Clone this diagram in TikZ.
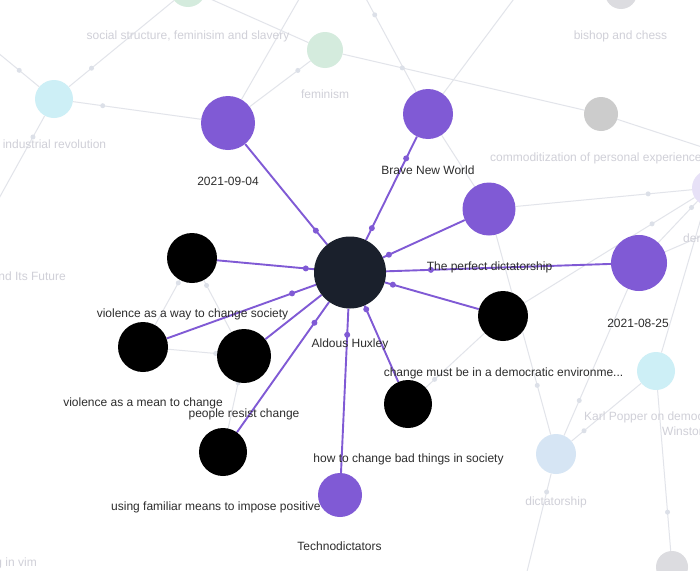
\documentclass[tikz,border=0pt]{standalone}
\usepackage{fontspec}
\setmainfont{Liberation Sans}
\usetikzlibrary{calc}
\definecolor{purp}{HTML}{805AD5}
\definecolor{hubc}{HTML}{1A202C}
\definecolor{bgedge}{HTML}{E2E4EA}
\definecolor{bgdot}{HTML}{DCE0E8}
\definecolor{bgtext}{HTML}{D0D0D8}
\definecolor{labtext}{HTML}{2D2D2D}
\definecolor{palegreen}{HTML}{D4EBDD}
\definecolor{palecyan}{HTML}{CDEFF6}
\definecolor{paleblue}{HTML}{D6E5F4}
\definecolor{palegray}{HTML}{CCCCCC}
\definecolor{lightgray}{HTML}{DCDCE0}
\definecolor{palelav}{HTML}{E7E1F7}
\pgfdeclarelayer{bgedges}
\pgfdeclarelayer{bgnodes}
\pgfdeclarelayer{medges}
\pgfsetlayers{bgedges,bgnodes,medges,main}
\tikzset{
 circ/.style={circle, inner sep=0pt, minimum size=#1},
 hubnode/.style={circ=72pt, fill=hubc},
 pnode/.style={circ=#1, fill=purp},
 bnode/.style={circ=#1, fill=black},
 medge/.style={draw=purp, line width=1.9pt},
 bgline/.style={draw=bgedge, line width=1pt},
 mdot/.style={circle, fill=purp, inner sep=0pt, minimum size=6pt},
 bdot/.style={circle, fill=bgdot, inner sep=0pt, minimum size=5pt},
 lab/.style={font=\fontsize{12}{14}\selectfont, text=labtext, inner sep=0pt, anchor=base},
 bglab/.style={font=\fontsize{12}{14}\selectfont, text=bgtext, inner sep=0pt, anchor=base},
}
\begin{document}
\begin{tikzpicture}[x=1pt,y=-1pt]
\useasboundingbox (0,0) rectangle (700,570);

% ---------- main nodes ----------
\node[hubnode] (hux) at (350,272.5) {};
\node[pnode=54pt] (p0904) at (228,123) {};
\node[pnode=50pt] (bnw) at (428,114) {};
\node[pnode=53pt] (pdict) at (489,209) {};
\node[pnode=56pt] (p0825) at (639,263) {};
\node[bnode=50pt] (va) at (192,258) {};
\node[bnode=50pt] (vb) at (143,347) {};
\node[bnode=54pt] (vc) at (244,356) {};
\node[bnode=50pt] (vd) at (503,316) {};
\node[bnode=48pt] (ve) at (408,404) {};
\node[bnode=48pt] (vf) at (223,452) {};

% ---------- main labels ----------
\node[lab] (l0904) at (228,185) {2021-09-04};
\node[lab] (lbnw) at (428,174) {Brave New World};
\node[lab] (lpdict) at (489.5,270) {The perfect dictatorship};
\node[lab] (l0825) at (638,327) {2021-08-25};
\node[lab] (lhux) at (350,347) {Aldous Huxley};
\node[lab] (lva) at (192.5,317) {violence as a way to change society};
\node[lab] (lvb) at (143,406.5) {violence as a mean to change};
\node[lab] (lvc) at (244,417) {people resist change};
\node[lab] (lvd) at (503.5,376) {change must be in a democratic environme...};
\node[lab] (lve) at (408.5,462) {how to change bad things in society};
\node[lab, anchor=base west] (lvf) at (111,510) {using familiar means to impose positive};
\node[pnode=44pt] (techno) at (340,495) {};
\node[lab] (ltech) at (339.5,550) {Technodictators};

% ---------- background nodes and labels ----------
\begin{pgfonlayer}{bgnodes}
\node[circ=36pt, fill=palegreen] (g1) at (188,-11) {};
\node[circ=36pt, fill=palegreen] (fem) at (325,50) {};
\node[circ=38pt, fill=palecyan] (cy1) at (54,99) {};
\node[circ=32pt, fill=lightgray] (gtop) at (621,-7) {};
\node[circ=34pt, fill=palegray] (gr) at (601,114) {};
\node[circ=36pt, fill=palelav] (lav) at (710,188) {};
\node[circ=38pt, fill=palecyan] (cy2) at (656,371) {};
\node[circ=40pt, fill=paleblue] (dict) at (556,454) {};
\node[circ=32pt, fill=lightgray] (gbot) at (672,567) {};
\node[bglab] (lg1) at (188,39) {social structure, feminisim and slavery};
\node[bglab] (lfem) at (325,98) {feminism};
\node[bglab] (lcy1) at (54.5,148) {industrial revolution};
\node[bglab] (lgtop) at (620.5,39) {bishop and chess};
\node[bglab, anchor=base west] (lgr) at (490,161) {commoditization of personal experience};
\node[bglab, anchor=base west] (llav) at (683,242) {democracy};
\node[bglab, anchor=base west] (lcy2a) at (584,420) {Karl Popper on democracy};
\node[bglab, anchor=base west] (lcy2b) at (662,435) {Winston Churchill};
\node[bglab] (ldict) at (556,505) {dictatorship};
\node[bglab, anchor=base east] (lfut) at (66,280) {Society and Its Future};
\node[bglab, anchor=base east] (lvim) at (37,566) {editing in vim};
\end{pgfonlayer}

% off-canvas ends
\coordinate (o1) at (-20,38);
\coordinate (o2) at (-13,220);
\coordinate (o3) at (310,-20);
\coordinate (o4) at (356,-20);
\coordinate (o5) at (528,-20);
\coordinate (o6) at (760,166);
\coordinate (o7) at (760,211);
\coordinate (o8) at (520,600);

% ---------- background edges ----------
\begin{pgfonlayer}{bgedges}
\fill[white] (0,0) rectangle (700,570);
\draw[bgline] (cy1) -- (o1);
\draw[bgline] (cy1) -- (g1);
\draw[bgline] (cy1) -- (p0904);
\draw[bgline] (cy1) -- (o2);
\draw[bgline] (g1) -- (fem);
\draw[bgline] (fem) -- (p0904);
\draw[bgline] (p0904) -- (o3);
\draw[bgline] (bnw) -- (o4);
\draw[bgline] (bnw) -- (o5);
\draw[bgline] (fem) -- (gr);
\draw[bgline] (gr) -- (o6);
\draw[bgline] (bnw) -- (pdict);
\draw[bgline] (pdict) -- (lav);
\draw[bgline] (vd) -- (lav);
\draw[bgline] (p0825) -- (lav);
\draw[bgline] (p0825) -- (o7);
\draw[bgline] (cy2) -- (lav);
\draw[bgline] (pdict.center) -- (dict);
\draw[bgline] (vd) -- (ve);
\draw[bgline] (p0825) -- (dict);
\draw[bgline] (cy2) -- (dict);
\draw[bgline] (cy2) -- (gbot);
\draw[bgline] (dict) -- (o8);
\draw[bgline] (vb) -- (va);
\draw[bgline] (vc) -- (va);
\draw[bgline] (vb) -- (vc);
\draw[bgline] (vf) -- (vc);
\node[bdot] at ($(cy1)!0.47!(o1)$) {};
\node[bdot] at ($(cy1)!0.28!(g1)$) {};
\node[bdot] at ($(cy1)!0.28!(p0904)$) {};
\node[bdot] at ($(cy1)!0.314!(o2)$) {};
\node[bdot] at ($(fem)!0.28!(p0904)$) {};
\node[bdot] at ($(bnw)!0.74!(o4)$) {};
\node[bdot] at ($(fem)!0.28!(gr)$) {};
\node[bdot] at ($(pdict)!0.72!(lav)$) {};
\node[bdot] at ($(vd)!0.72!(lav)$) {};
\node[bdot] at ($(p0825)!0.74!(lav)$) {};
\node[bdot] at ($(pdict)!0.72!(dict)$) {};
\node[bdot] at ($(vd)!0.72!(ve)$) {};
\node[bdot] at ($(p0825)!0.72!(dict)$) {};
\node[bdot] at ($(cy2)!0.72!(dict)$) {};
\node[bdot] at ($(cy2)!0.72!(gbot)$) {};
\node[bdot] at ($(dict)!0.26!(o8)$) {};
\node[bdot] at ($(vb)!0.72!(va)$) {};
\node[bdot] at ($(vc)!0.72!(va)$) {};
\node[bdot] at ($(vb)!0.72!(vc)$) {};
\node[bdot] at ($(vf)!0.72!(vc)$) {};
\end{pgfonlayer}

% ---------- main edges ----------
\begin{pgfonlayer}{medges}
\draw[medge] (vc) -- (hux);
\foreach \s in {p0904,bnw,pdict,p0825,va,vb,vd,ve,vf,techno}{
  \draw[medge] (\s) -- (hux);
  \node[mdot] at ($(\s)!0.72!(hux)$) {};
}
\node[mdot] at ($(hux)!0.72!(bnw)$) {};
\end{pgfonlayer}
\end{tikzpicture}
\end{document}
